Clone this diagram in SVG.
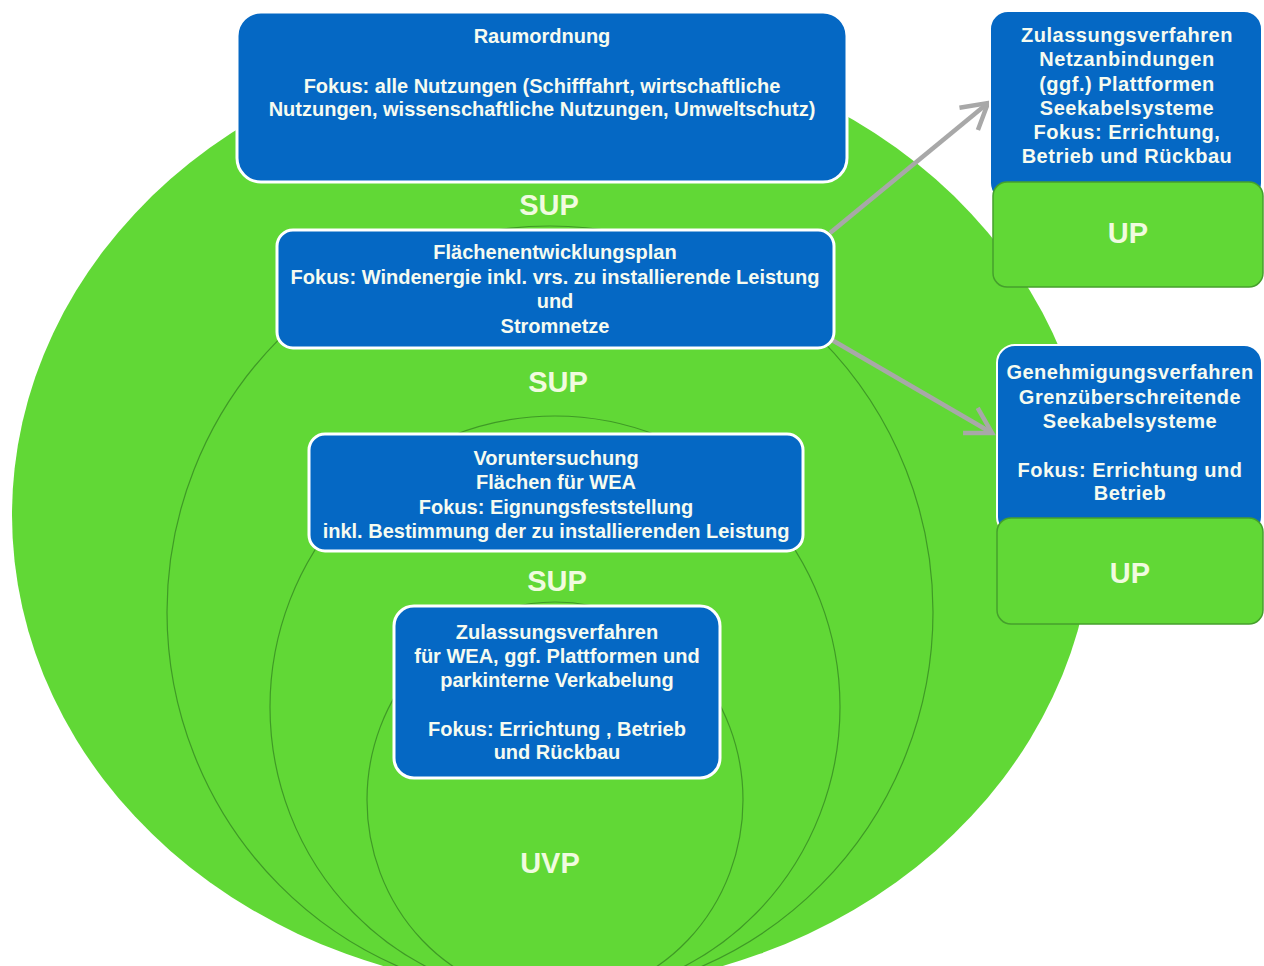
<svg xmlns="http://www.w3.org/2000/svg" width="1264" height="966" viewBox="0 0 1264 966">
<defs>
<style>
.bg{fill:#ffffff}
.outer{fill:#61d836}
.ring{fill:none;stroke:#3f9a26;stroke-width:1.2}
.box{fill:#0568c4;stroke:#ffffff;stroke-width:3}
.rbox{fill:#0568c4;stroke:#ffffff;stroke-width:2}
.up{fill:#61d836;stroke:#45a02c;stroke-width:1.5}
.t{font-family:"Liberation Sans",Arial,sans-serif;font-weight:bold;font-size:20px;fill:#f6fbf0;text-anchor:middle}
.tr{letter-spacing:0.5px}
.lab{font-family:"Liberation Sans",Arial,sans-serif;font-weight:bold;font-size:29px;fill:#f0fbdf;text-anchor:middle}
.arr{fill:none;stroke:#a8a8a8;stroke-width:4.5}
</style>
<marker id="head" markerUnits="userSpaceOnUse" markerWidth="60" markerHeight="60" viewBox="-30 -30 60 60" refX="0" refY="0" orient="auto" overflow="visible">
<path d="M-25,-14.5 L0,0 L-25,14.5" fill="none" stroke="#a8a8a8" stroke-width="4.5" stroke-linejoin="miter"/>
</marker>
</defs>
<rect class="bg" x="0" y="0" width="1264" height="966"/>
<g id="circles">
<ellipse class="outer" cx="553" cy="515" rx="541" ry="475"/>
<ellipse class="ring" cx="550" cy="612" rx="383" ry="386"/>
<ellipse class="ring" cx="555" cy="707" rx="285" ry="291"/>
<ellipse class="ring" cx="555" cy="800" rx="188" ry="198"/>
</g>
<g id="connectors">
<line class="arr" x1="830" y1="233" x2="988" y2="103" marker-end="url(#head)"/>
<line class="arr" x1="832" y1="340" x2="992" y2="433" marker-end="url(#head)"/>
</g>
<g id="raumordnung">
<rect class="box" x="237" y="12" width="610" height="170" rx="24"/>
<text class="t" x="542" y="43">Raumordnung</text>
<text class="t" x="542" y="93">Fokus: alle Nutzungen (Schifffahrt, wirtschaftliche</text>
<text class="t" x="542" y="116">Nutzungen, wissenschaftliche Nutzungen, Umweltschutz)</text>
</g>
<g id="sup1"><text class="lab" x="549" y="215">SUP</text></g>
<g id="flaechenentwicklungsplan">
<rect class="box" x="277" y="230" width="557" height="118" rx="16"/>
<text class="t" x="555" y="259">Flächenentwicklungsplan</text>
<text class="t" x="555" y="284">Fokus: Windenergie inkl. vrs. zu installierende Leistung</text>
<text class="t" x="555" y="308">und</text>
<text class="t" x="555" y="333">Stromnetze</text>
</g>
<g id="sup2"><text class="lab" x="558" y="392">SUP</text></g>
<g id="voruntersuchung">
<rect class="box" x="309" y="434" width="494" height="117" rx="16"/>
<text class="t" x="556" y="465">Voruntersuchung</text>
<text class="t" x="556" y="489">Flächen für WEA</text>
<text class="t" x="556" y="514">Fokus: Eignungsfeststellung</text>
<text class="t" x="556" y="538">inkl. Bestimmung der zu installierenden Leistung</text>
</g>
<g id="sup3"><text class="lab" x="557" y="591">SUP</text></g>
<g id="zulassung-wea">
<rect class="box" x="394" y="606" width="326" height="172" rx="20"/>
<text class="t" x="557" y="639">Zulassungsverfahren</text>
<text class="t" x="557" y="663">für WEA, ggf. Plattformen und</text>
<text class="t" x="557" y="687">parkinterne Verkabelung</text>
<text class="t" x="557" y="736">Fokus: Errichtung , Betrieb</text>
<text class="t" x="557" y="759">und Rückbau</text>
</g>
<g id="uvp"><text class="lab" x="550" y="873">UVP</text></g>
<g id="zulassung-netz">
<rect class="rbox" x="990" y="11" width="272" height="190" rx="18"/>
<text class="t tr" x="1127" y="42">Zulassungsverfahren</text>
<text class="t tr" x="1127" y="66">Netzanbindungen</text>
<text class="t tr" x="1127" y="91">(ggf.) Plattformen</text>
<text class="t tr" x="1127" y="115">Seekabelsysteme</text>
<text class="t tr" x="1127" y="139">Fokus: Errichtung,</text>
<text class="t tr" x="1127" y="163">Betrieb und Rückbau</text>
</g>
<g id="up1">
<rect class="up" x="993" y="182" width="270" height="105" rx="14"/>
<text class="lab" x="1128" y="243">UP</text>
</g>
<g id="genehmigung">
<rect class="rbox" x="997" y="345" width="265" height="190" rx="18"/>
<text class="t tr" x="1130" y="379">Genehmigungsverfahren</text>
<text class="t tr" x="1130" y="404">Grenzüberschreitende</text>
<text class="t tr" x="1130" y="428">Seekabelsysteme</text>
<text class="t tr" x="1130" y="477">Fokus: Errichtung und</text>
<text class="t tr" x="1130" y="500">Betrieb</text>
</g>
<g id="up2">
<rect class="up" x="997" y="518" width="266" height="106" rx="14"/>
<text class="lab" x="1130" y="583">UP</text>
</g>
</svg>
